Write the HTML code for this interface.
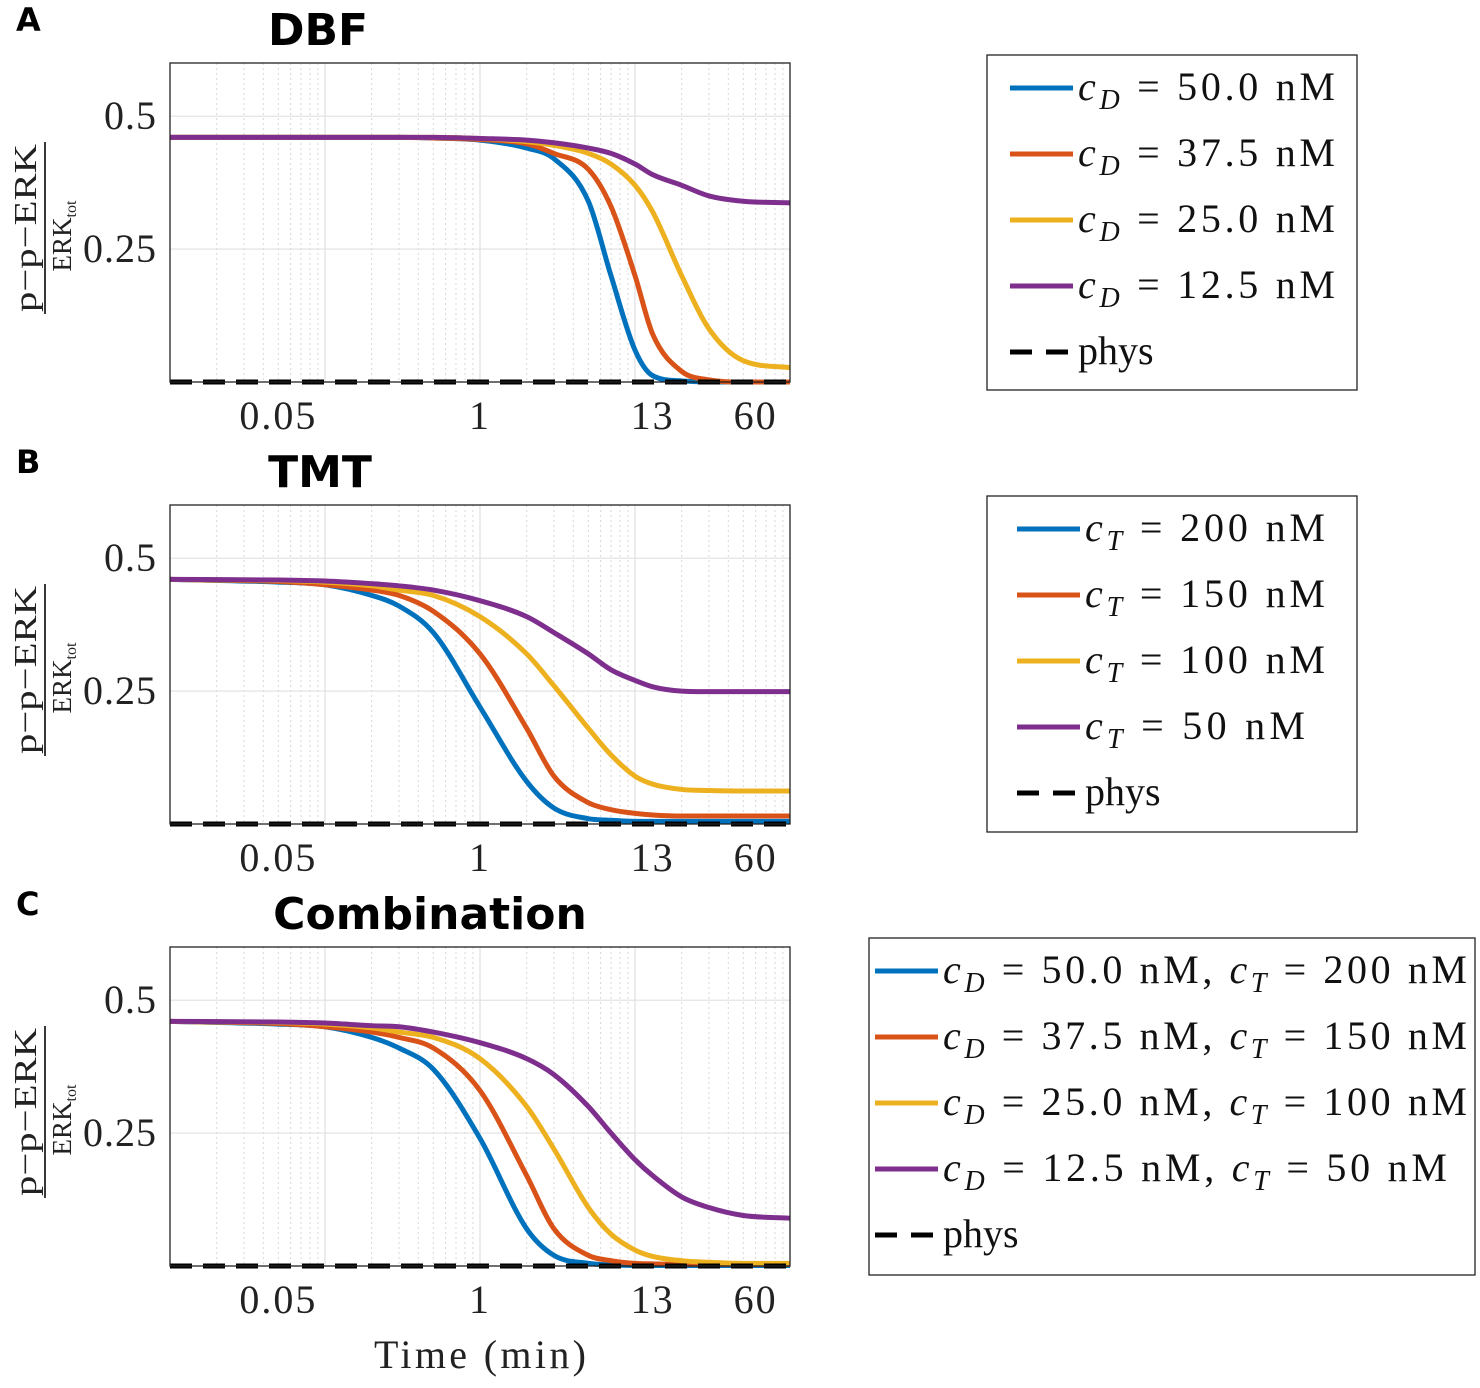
<!DOCTYPE html>
<html><head><meta charset="utf-8">
<style>
html,body{margin:0;padding:0;background:#fff;}
svg{display:block;}
text{font-family:"Liberation Serif",serif;}
.sans{font-family:"DejaVu Sans","Liberation Sans",sans-serif;font-weight:bold;}
</style></head>
<body>
<svg id="fig" width="1480" height="1388" xmlns="http://www.w3.org/2000/svg"></svg>
<script>
const times = [0.01,0.05,0.1,0.2,0.3,0.5,1,2,3,5,7,10,13,20,30,50,100];
// Panel A (DBF)
const dbfBlue   = [0.46,0.46,0.46,0.46,0.46,0.459,0.455,0.44,0.42,0.34,0.2,0.06,0.012,0.002,0.0,0.0,0.0];
const dbfRed    = [0.46,0.46,0.46,0.46,0.46,0.459,0.456,0.448,0.43,0.40,0.33,0.2,0.09,0.02,0.004,0.0,0.0];
const dbfYellow = [0.46,0.46,0.46,0.46,0.46,0.46,0.458,0.452,0.445,0.43,0.41,0.37,0.32,0.2,0.1,0.04,0.027];
const dbfPurple = [0.46,0.46,0.46,0.46,0.46,0.46,0.458,0.455,0.45,0.44,0.43,0.41,0.39,0.37,0.35,0.34,0.337];
// Panel B (TMT)
const tmtBlue   = [0.46,0.455,0.45,0.43,0.41,0.36,0.22,0.08,0.03,0.01,0.007,0.005,0.005,0.005,0.005,0.005,0.005];
const tmtRed    = [0.46,0.456,0.45,0.44,0.43,0.40,0.32,0.18,0.09,0.04,0.027,0.02,0.017,0.015,0.015,0.015,0.015];
const tmtYellow = [0.46,0.458,0.455,0.448,0.44,0.43,0.39,0.32,0.26,0.18,0.13,0.09,0.075,0.065,0.063,0.062,0.062];
const tmtPurple = [0.46,0.459,0.457,0.452,0.448,0.44,0.42,0.39,0.36,0.32,0.29,0.27,0.258,0.25,0.249,0.249,0.249];
// Panel C (Combination)
const comBlue   = [0.46,0.455,0.45,0.43,0.41,0.37,0.24,0.07,0.02,0.005,0.002,0.001,0.001,0.001,0.001,0.001,0.001];
const comRed    = [0.46,0.456,0.45,0.44,0.43,0.41,0.33,0.17,0.07,0.02,0.01,0.005,0.004,0.003,0.003,0.003,0.003];
const comYellow = [0.46,0.458,0.455,0.448,0.44,0.43,0.39,0.30,0.22,0.11,0.06,0.03,0.018,0.01,0.007,0.005,0.005];
const comPurple = [0.46,0.459,0.457,0.452,0.45,0.44,0.42,0.39,0.36,0.30,0.25,0.20,0.17,0.13,0.11,0.095,0.09];
const physVals  = [0,0,0,0,0,0,0,0,0,0,0,0,0,0,0,0,0];

const xTickVals = [0.05,1,13,60];
const xTickLabels = ["0.05","1","13","60"];
const yTickVals = [0.25,0.5];
const yTickLabels = ["0.25","0.5"];
const legendA = ["50.0","37.5","25.0","12.5"];
const legendB = ["200","150","100","50"];
const legendC = [["50.0","200"],["37.5","150"],["25.0","100"],["12.5","50"]];

const COLORS=["#0072BD","#D95319","#EDB120","#7E2F8E"];
const NS="http://www.w3.org/2000/svg";
const svg=document.getElementById('fig');
function el(tag,attrs,parent,txt){const e=document.createElementNS(NS,tag);for(const k in attrs)e.setAttribute(k,attrs[k]);if(txt!==undefined)e.textContent=txt;(parent||svg).appendChild(e);return e;}

const X0=170,X1=790;
function xs(t){return X0+(Math.log10(t)+2)/4*(X1-X0);}
function monoPath(px,py){
  const n=px.length,d=[],m=[];
  for(let i=0;i<n-1;i++)d.push((py[i+1]-py[i])/(px[i+1]-px[i]));
  m[0]=d[0];m[n-1]=d[n-2];
  for(let i=1;i<n-1;i++){m[i]=(d[i-1]*d[i]<=0)?0:(d[i-1]+d[i])/2;}
  for(let i=0;i<n-1;i++){if(d[i]===0){m[i]=0;m[i+1]=0;continue;}const a=m[i]/d[i],b=m[i+1]/d[i],s=a*a+b*b;if(s>9){const tt=3/Math.sqrt(s);m[i]=tt*a*d[i];m[i+1]=tt*b*d[i];}}
  let p=`M${px[0]},${py[0]}`;
  for(let i=0;i<n-1;i++){const h=(px[i+1]-px[i])/3;p+=` C${px[i]+h},${py[i]+m[i]*h} ${px[i+1]-h},${py[i+1]-m[i+1]*h} ${px[i+1]},${py[i+1]}`;}
  return p;
}

function panel(key,top,series,title,titleX,letter){
  const Y0=top,Y1=top+319;
  const ys=v=>Y1-v/0.6*(Y1-Y0);
  const g=el('g',{});
  
  
  el('rect',{x:X0,y:Y0,width:X1-X0,height:Y1-Y0,fill:'#fff'},g);
  for(let dec=-2;dec<2;dec++){for(let k=2;k<=9;k++){const x=xs(k*Math.pow(10,dec));el('line',{x1:x,x2:x,y1:Y0,y2:Y1,stroke:'#d8d8d8','stroke-width':1,'stroke-dasharray':'2,3'},g);}}
  for(let dec=-1;dec<2;dec++){const x=xs(Math.pow(10,dec));el('line',{x1:x,x2:x,y1:Y0,y2:Y1,stroke:'#e0e0e0','stroke-width':1.2},g);}
  yTickVals.forEach((v,i)=>{const y=ys(v);el('line',{x1:X0,x2:X1,y1:y,y2:y,stroke:'#e0e0e0','stroke-width':1.2},g);
    const t=el('text',{x:157,y:y+13,'font-size':40,'text-anchor':'end',fill:'#222','letter-spacing':1},g,yTickLabels[i]);});
  xTickVals.forEach((v,i)=>{const t=el('text',{x:xs(v),y:Y1+47,'font-size':40,'text-anchor':'middle',fill:'#222','letter-spacing':2},g,xTickLabels[i]);});
  const pxs=times.map(xs);
  series.forEach((vals,i)=>{const p=el('path',{d:monoPath(pxs,vals.map(ys)),fill:'none',stroke:COLORS[i],'stroke-width':5},g);
    });
  const ph=el('path',{d:monoPath(pxs,physVals.map(ys)),fill:'none',stroke:'#000','stroke-width':5,'stroke-dasharray':'22,11'},g);
  
  el('rect',{x:X0,y:Y0,width:X1-X0,height:Y1-Y0,fill:'none',stroke:'#222','stroke-width':1.3},g);
  const tt=el('text',{x:titleX,y:top-18,'font-size':44,'text-anchor':'middle',class:'sans',fill:'#000'},g,title);
  
  const lt=el('text',{x:16,y:top-32,'font-size':32,class:'sans',fill:'#000'},g,letter);
  
  const cy=top+165;
  const yl=el('g',{transform:`translate(45,${cy}) rotate(-90)`},g);
  
  el('text',{x:0,y:-9,'font-size':32,'text-anchor':'middle',fill:'#222',textLength:168,lengthAdjust:'spacingAndGlyphs'},yl,'p\u2212p\u2212ERK');
  el('line',{x1:-86,x2:86,y1:0,y2:0,stroke:'#222','stroke-width':1.8},yl);
  const d=el('text',{x:-8,y:26,'font-size':27,'text-anchor':'middle',fill:'#222'},yl,'ERK');
  el('tspan',{'font-size':16,dy:5},d,'tot');
}

function legend(key,x,y,w,h,lineX,rows,widths){
  const g=el('g',{});
  
  el('rect',{x:x,y:y,width:w,height:h,fill:'#fff',stroke:'#222','stroke-width':1.3},g);
  const ey=[33,99,165,231,297];
  rows.forEach((r,i)=>{
    const yy=y+ey[i];
    const e=el('g',{},g);
    el('line',{x1:lineX,x2:lineX+63,y1:yy,y2:yy,stroke:COLORS[i],'stroke-width':5},e);
    const t=el('text',{x:lineX+68,y:yy+12,'font-size':40,fill:'#111',textLength:widths[i],lengthAdjust:'spacing'},e);
    r.forEach(part=>{
      if(part[0]==='i'){el('tspan',{'font-style':'italic'},t,'c');el('tspan',{'font-style':'italic','font-size':28,dy:9},t,part[1]);el('tspan',{dy:-9},t,' ');}
      else el('tspan',{},t,part[1]);
    });
  });
  const yy=y+ey[4];
  const e=el('g',{},g);
  el('line',{x1:lineX,x2:lineX+63,y1:yy,y2:yy,stroke:'#000','stroke-width':5,'stroke-dasharray':'22,14'},e);
  el('text',{x:lineX+68,y:yy+12,'font-size':40,fill:'#111'},e,'phys');
}

panel('a',63,[dbfBlue,dbfRed,dbfYellow,dbfPurple],'DBF',318,'A');
panel('b',505,[tmtBlue,tmtRed,tmtYellow,tmtPurple],'TMT',320,'B');
panel('c',947,[comBlue,comRed,comYellow,comPurple],'Combination',430,'C');

legend('a',987,55,370,335,1010,legendA.map(s=>[['i','D'],['t','=  '+s+' nM']]),[257,257,257,257]);
legend('b',987,496,370,336,1017,legendB.map(s=>[['i','T'],['t','=  '+s+' nM']]),[240,240,240,220]);
legend('c',869,938,606,337,875,legendC.map(r=>[['i','D'],['t','=  '+r[0]+' nM, '],['i','T'],['t','=  '+r[1]+' nM']]),[524,524,524,504]);

const xt=el('text',{x:480,y:1368,'font-size':40,'text-anchor':'middle',fill:'#222',textLength:212,lengthAdjust:'spacing'},svg,'Time (min)');


</script>
</body></html>
